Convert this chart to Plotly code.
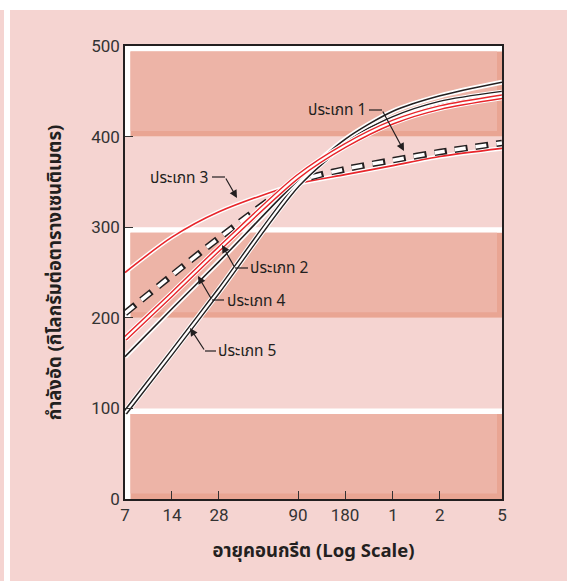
import plotly.graph_objects as go

# ---------------- data ----------------
days = [7, 14, 28, 90, 180, 365, 730, 1825]
tick_labels = ["7", "14", "28", "90", "180", "1", "2", "5"]
type1 = [205, 247, 288, 350, 364, 374, 383, 393]
type2 = [177, 226, 276, 356, 390, 416, 432, 444]
type3 = [250, 289, 317, 348, 358, 368, 378, 387]
type4 = [157, 210, 262, 352, 397, 428, 445, 460]
type5 = [95, 162, 230, 347, 392, 420, 437, 448]
band_lows = [0, 200, 400]

# ---------------- layout geometry ----------------
W, H = 567, 581
L, R, T, B = 125, 502, 46, 499
PW, PH = R - L, B - T

def px(x):
    return (x - L) / PW

def py(y):
    return (B - y) / PH

BG = "#f5d4d1"
BAND = "#edb4a7"
BEVEL = "#e9a593"
RED = "#e8262b"
BLACK = "#231f20"
THAI = "Noto Sans Thai, Noto Sans, Liberation Sans Narrow, sans-serif"
NUM = "Liberation Sans Narrow, Arial Narrow, Roboto, sans-serif"

fig = go.Figure()

def add_line(y, color, width, dash=None):
    fig.add_trace(go.Scatter(
        x=days, y=y, mode="lines",
        line=dict(color=color, width=width, shape="spline", smoothing=0.8, dash=dash),
        hoverinfo="skip", showlegend=False))

# Type 3: thin red with white halo
add_line(type3, "white", 4.5)
add_line(type3, RED, 1.6)
# Type 1: dashed outlined
add_line(type1, BLACK, 6.5, "13px,8px")
add_line(type1, "white", 3.6, "11px,10px")
# Type 5: black double line
add_line(type5, "white", 7)
add_line(type5, BLACK, 5)
add_line(type5, "white", 2.2)
# Type 4: black with white halo
add_line(type4, "white", 5)
add_line(type4, BLACK, 1.6)
# Type 2: red double line
add_line(type2, "white", 7)
add_line(type2, RED, 5)
add_line(type2, "white", 2.2)

shapes = []
# page decoration
shapes.append(dict(type="rect", xref="paper", yref="paper", x0=px(0), x1=px(W),
                   y0=py(10), y1=py(-2), fillcolor="white", line_width=0, layer="below"))
shapes.append(dict(type="rect", xref="paper", yref="paper", x0=px(4), x1=px(10),
                   y0=py(H + 2), y1=py(10), fillcolor="white", line_width=0, layer="below"))

# bands with bevel
dx5 = 5 / PW
for lo in band_lows:
    top = lo + 100
    inner_top = top - 5.5 / (PH / 500)
    shapes.append(dict(type="rect", xref="x domain", yref="y", x0=0, x1=1, y0=lo, y1=top,
                       fillcolor="white", line_width=0, layer="below"))
    shapes.append(dict(type="rect", xref="x domain", yref="y", x0=dx5 * 1.1, x1=1, y0=lo, y1=inner_top,
                       fillcolor=BEVEL, line_width=0, layer="below"))
    shapes.append(dict(type="rect", xref="x domain", yref="y", x0=dx5 * 1.1, x1=1 - dx5,
                       y0=lo + 5.5 / (PH / 500), y1=inner_top,
                       fillcolor=BAND, line_width=0, layer="below"))

# labels and leaders: (text, text center px, leader start, leader bend, arrow tip)
labels = [
    ("ประเภท 1", (337, 111), (369, 110), (382, 110), (404, 151)),
    ("ประเภท 3", (179, 179), (212, 177), (225, 177), (237, 198)),
    ("ประเภท 2", (279, 268), (248, 268), (235, 268), (222, 245)),
    ("ประเภท 4", (256, 301), (224, 300), (212, 300), (198, 276)),
    ("ประเภท 5", (247, 351), (216, 351), (205, 351), (190, 328)),
]
annotations = []
for text, (tx, ty), (sx, sy), (bx, by), (ax_, ay_) in labels:
    annotations.append(dict(x=px(tx), y=py(ty), xref="paper", yref="paper", text=text,
                            xanchor="center", yanchor="middle",
                            showarrow=False, font=dict(family=THAI, size=15.5, color="#231f20")))
    shapes.append(dict(type="line", xref="paper", yref="paper", x0=px(sx), y0=py(sy),
                       x1=px(bx), y1=py(by), line=dict(color=BLACK, width=1.2)))
    annotations.append(dict(x=px(ax_), y=py(ay_), xref="paper", yref="paper", text="",
                            showarrow=True, axref="pixel", ayref="pixel",
                            ax=bx - ax_, ay=by - ay_, arrowhead=2, arrowsize=1.3,
                            arrowwidth=1.2, arrowcolor=BLACK, standoff=0, startstandoff=0))

fig.update_layout(
    width=W, height=H,
    margin=dict(l=L, r=W - R, t=T, b=H - B, pad=0),
    paper_bgcolor=BG, plot_bgcolor=BG,
    shapes=shapes, annotations=annotations,
    showlegend=False,
    xaxis=dict(type="log", range=[0.8451, 3.2613], tickvals=days, ticktext=tick_labels,
               ticks="inside", ticklen=8, tickcolor="#333", tickwidth=1,
               showline=True, linecolor=BLACK, linewidth=1.5, mirror=True,
               showgrid=False, zeroline=False, automargin=False,
               tickfont=dict(family=NUM, size=17, color="#333"),
               title=dict(text="<b>อายุคอนกรีต (Log Scale)</b>", standoff=20,
                          font=dict(family=THAI, size=18.5, color="#231f20"))),
    yaxis=dict(range=[0, 500], tickvals=[0, 100, 200, 300, 400, 500],
               ticks="inside", ticklen=8, tickcolor="#333", tickwidth=1,
               showline=True, linecolor=BLACK, linewidth=1.5, mirror=True,
               showgrid=False, zeroline=False, automargin=False,
               tickfont=dict(family=NUM, size=17, color="#333"),
               title=dict(text="<b>กำลังอัด (กิโลกรัมต่อตารางเซนติเมตร)</b>", standoff=25,
                          font=dict(family=THAI, size=18.5, color="#231f20"))),
)

fig.write_html("out.html")
